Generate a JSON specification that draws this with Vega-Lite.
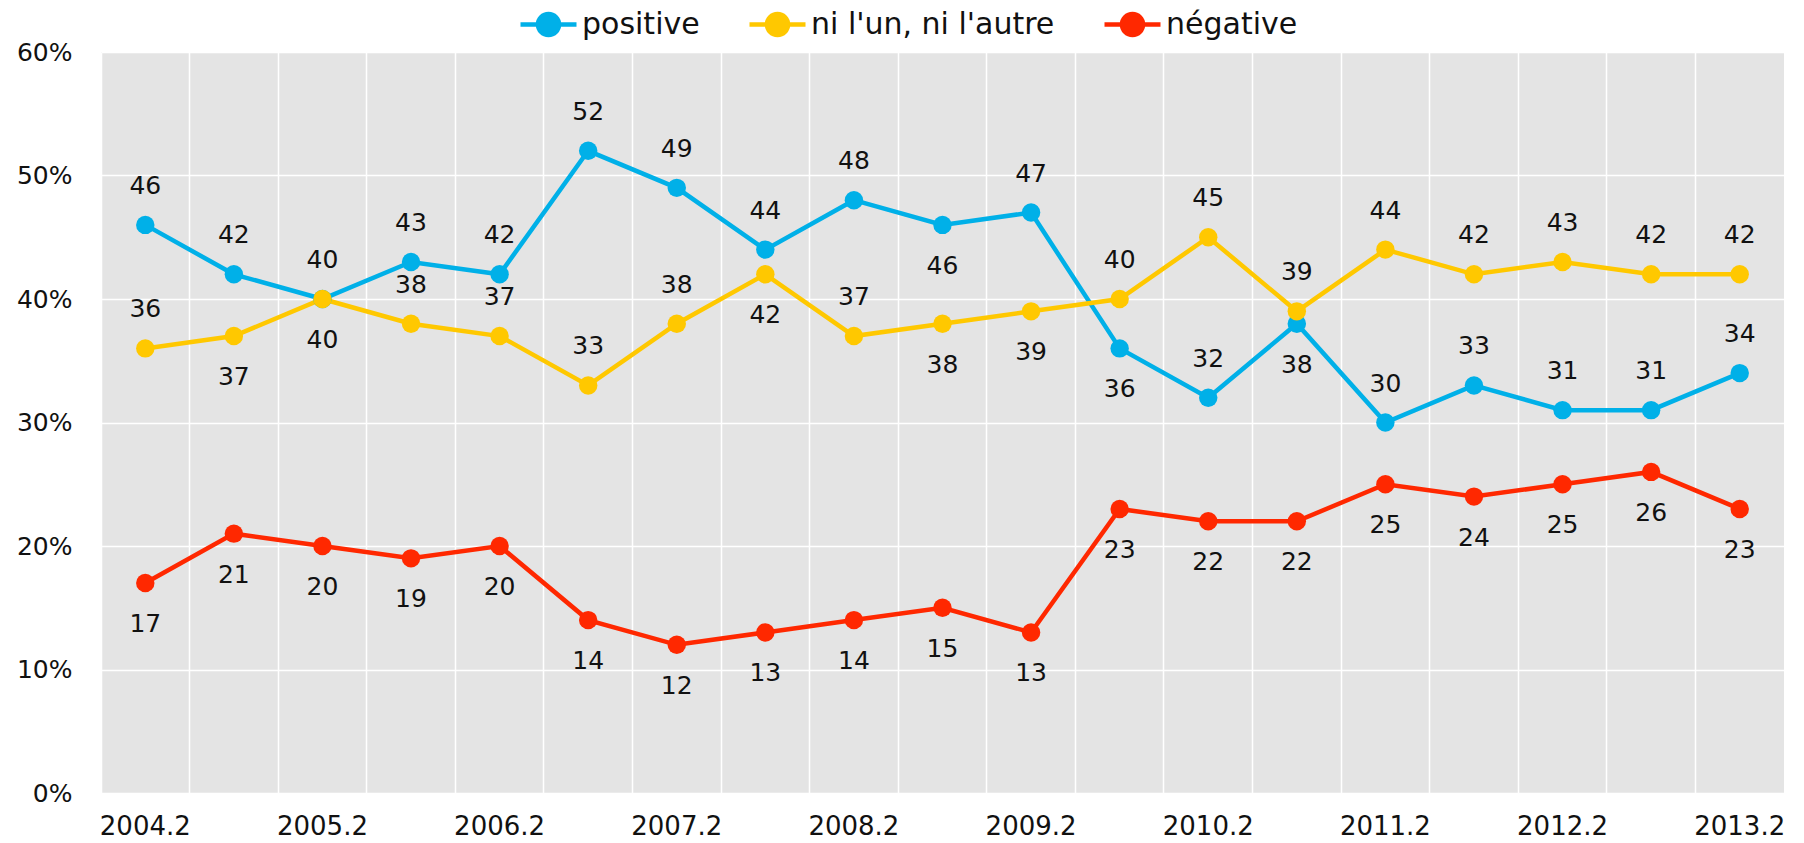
{
  "$schema": "https://vega.github.io/schema/vega-lite/v6.json",
  "width": 1683,
  "height": 741,
  "autosize": {"type": "none"},
  "padding": {"left": 101, "top": 52, "right": 20, "bottom": 50},
  "background": "white",
  "config": {
    "view": {"fill": "#e4e4e4", "stroke": null},
    "font": "DejaVu Sans"
  },
  "data": {
    "values": [
      {"period": "2004.2", "serie": "positive", "value": 46},
      {"period": "2004.8", "serie": "positive", "value": 42},
      {"period": "2005.2", "serie": "positive", "value": 40},
      {"period": "2005.8", "serie": "positive", "value": 43},
      {"period": "2006.2", "serie": "positive", "value": 42},
      {"period": "2006.8", "serie": "positive", "value": 52},
      {"period": "2007.2", "serie": "positive", "value": 49},
      {"period": "2007.8", "serie": "positive", "value": 44},
      {"period": "2008.2", "serie": "positive", "value": 48},
      {"period": "2008.8", "serie": "positive", "value": 46},
      {"period": "2009.2", "serie": "positive", "value": 47},
      {"period": "2009.8", "serie": "positive", "value": 36},
      {"period": "2010.2", "serie": "positive", "value": 32},
      {"period": "2010.8", "serie": "positive", "value": 38},
      {"period": "2011.2", "serie": "positive", "value": 30},
      {"period": "2011.8", "serie": "positive", "value": 33},
      {"period": "2012.2", "serie": "positive", "value": 31},
      {"period": "2012.8", "serie": "positive", "value": 31},
      {"period": "2013.2", "serie": "positive", "value": 34},
      {"period": "2004.2", "serie": "ni l'un, ni l'autre", "value": 36},
      {"period": "2004.8", "serie": "ni l'un, ni l'autre", "value": 37},
      {"period": "2005.2", "serie": "ni l'un, ni l'autre", "value": 40},
      {"period": "2005.8", "serie": "ni l'un, ni l'autre", "value": 38},
      {"period": "2006.2", "serie": "ni l'un, ni l'autre", "value": 37},
      {"period": "2006.8", "serie": "ni l'un, ni l'autre", "value": 33},
      {"period": "2007.2", "serie": "ni l'un, ni l'autre", "value": 38},
      {"period": "2007.8", "serie": "ni l'un, ni l'autre", "value": 42},
      {"period": "2008.2", "serie": "ni l'un, ni l'autre", "value": 37},
      {"period": "2008.8", "serie": "ni l'un, ni l'autre", "value": 38},
      {"period": "2009.2", "serie": "ni l'un, ni l'autre", "value": 39},
      {"period": "2009.8", "serie": "ni l'un, ni l'autre", "value": 40},
      {"period": "2010.2", "serie": "ni l'un, ni l'autre", "value": 45},
      {"period": "2010.8", "serie": "ni l'un, ni l'autre", "value": 39},
      {"period": "2011.2", "serie": "ni l'un, ni l'autre", "value": 44},
      {"period": "2011.8", "serie": "ni l'un, ni l'autre", "value": 42},
      {"period": "2012.2", "serie": "ni l'un, ni l'autre", "value": 43},
      {"period": "2012.8", "serie": "ni l'un, ni l'autre", "value": 42},
      {"period": "2013.2", "serie": "ni l'un, ni l'autre", "value": 42},
      {"period": "2004.2", "serie": "négative", "value": 17},
      {"period": "2004.8", "serie": "négative", "value": 21},
      {"period": "2005.2", "serie": "négative", "value": 20},
      {"period": "2005.8", "serie": "négative", "value": 19},
      {"period": "2006.2", "serie": "négative", "value": 20},
      {"period": "2006.8", "serie": "négative", "value": 14},
      {"period": "2007.2", "serie": "négative", "value": 12},
      {"period": "2007.8", "serie": "négative", "value": 13},
      {"period": "2008.2", "serie": "négative", "value": 14},
      {"period": "2008.8", "serie": "négative", "value": 15},
      {"period": "2009.2", "serie": "négative", "value": 13},
      {"period": "2009.8", "serie": "négative", "value": 23},
      {"period": "2010.2", "serie": "négative", "value": 22},
      {"period": "2010.8", "serie": "négative", "value": 22},
      {"period": "2011.2", "serie": "négative", "value": 25},
      {"period": "2011.8", "serie": "négative", "value": 24},
      {"period": "2012.2", "serie": "négative", "value": 25},
      {"period": "2012.8", "serie": "négative", "value": 26},
      {"period": "2013.2", "serie": "négative", "value": 23}
    ]
  },
  "encoding": {
    "x": {
      "field": "period",
      "type": "ordinal",
      "sort": null,
      "scale": {"type": "band", "paddingInner": 0, "paddingOuter": 0},
      "axis": {
        "title": null,
        "labelAngle": 0,
        "labelExpr": "slice(datum.value, -2) == '.2' ? datum.value : ''",
        "labelOverlap": false,
        "bandPosition": 0,
        "ticks": false,
        "tickSize": 0,
        "domain": false,
        "labelFontSize": 26,
        "labelFont": "DejaVu Sans",
        "labelColor": "#111111",
        "labelPadding": 20,
        "grid": true,
        "gridColor": "#ffffff",
        "gridWidth": 1.5
      }
    },
    "y": {
      "field": "value",
      "type": "quantitative",
      "scale": {"domain": [0, 60], "nice": false},
      "axis": {
        "title": null,
        "values": [0, 10, 20, 30, 40, 50, 60],
        "labelExpr": "datum.value + '%'",
        "domain": false,
        "ticks": false,
        "tickSize": 0,
        "labelPadding": 29,
        "labelFontSize": 25,
        "labelFont": "DejaVu Sans",
        "labelColor": "#111111",
        "gridColor": "#ffffff",
        "gridWidth": 1.5
      }
    },
    "color": {
      "field": "serie",
      "type": "nominal",
      "sort": ["positive", "ni l'un, ni l'autre", "négative"],
      "scale": {
        "domain": ["positive", "ni l'un, ni l'autre", "négative"],
        "range": ["#00b0e8", "#ffc800", "#ff2800"]
      },
      "legend": {
        "title": null,
        "orient": "none",
        "legendX": 417,
        "legendY": -58,
        "direction": "horizontal",
        "padding": 0,
        "symbolType": "M-1,0H1M0.375,0A0.375,0.375,0,1,1,-0.375,0A0.375,0.375,0,1,1,0.375,0Z",
        "symbolSize": 3136,
        "symbolStrokeWidth": 4.5,
        "symbolOpacity": 1,
        "labelFontSize": 30,
        "labelFont": "DejaVu Sans",
        "labelColor": "#111111",
        "labelLimit": 0,
        "labelOffset": 3,
        "columnPadding": 40,
        "encode": {
          "symbols": {
            "update": {
              "fill": {"scale": "color", "field": "value"},
              "stroke": {"scale": "color", "field": "value"}
            }
          }
        }
      }
    }
  },
  "layer": [
    {"mark": {"type": "line", "strokeWidth": 4.5}},
    {"mark": {"type": "point", "filled": true, "size": 340, "opacity": 1}},
    {
      "transform": [
        {"filter": "!((datum.serie === 'positive' && indexof(['2008.8','2009.8','2010.8'], datum.period) >= 0) || (datum.serie !== 'positive' && datum.serie !== 'négative' && indexof(['2004.8','2005.2','2007.8','2008.8','2009.2'], datum.period) >= 0) || datum.serie === 'négative')"}
      ],
      "mark": {"type": "text", "dy": -39, "fontSize": 25, "font": "DejaVu Sans"},
      "encoding": {"text": {"field": "value"}, "color": {"value": "#111111"}}
    },
    {
      "transform": [
        {"filter": "(datum.serie === 'positive' && indexof(['2008.8','2009.8','2010.8'], datum.period) >= 0) || (datum.serie !== 'positive' && datum.serie !== 'négative' && indexof(['2004.8','2005.2','2007.8','2008.8','2009.2'], datum.period) >= 0) || datum.serie === 'négative'"}
      ],
      "mark": {"type": "text", "dy": 41, "fontSize": 25, "font": "DejaVu Sans"},
      "encoding": {"text": {"field": "value"}, "color": {"value": "#111111"}}
    }
  ]
}
